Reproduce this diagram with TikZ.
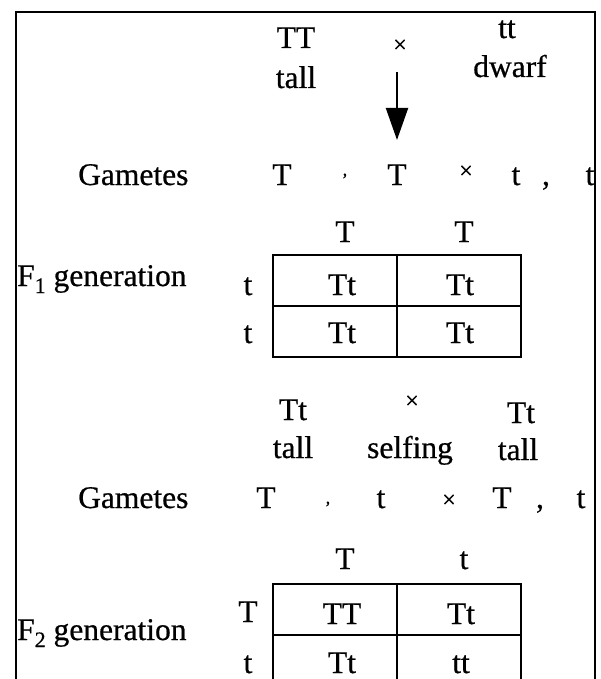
\documentclass[tikz,border=0pt]{standalone}
\usepackage{fontspec}
\setmainfont[FakeBold=0.6]{Liberation Serif}
\usetikzlibrary{arrows.meta}
\begin{document}
\begin{tikzpicture}[x=1pt,y=-1pt,
  txt/.style={inner sep=0pt,anchor=base,font=\fontsize{31.5}{36}\selectfont},
  lbl/.style={txt,anchor=base west},
  cross/.style={inner sep=0pt,anchor=center,font=\fontsize{24}{24}\selectfont},
  smallcomma/.style={inner sep=0pt,anchor=center,font=\fontsize{18}{18}\selectfont},
  grid/.style={line width=2.2pt},
  frame/.style={line width=2.8pt},
  bigarrow/.style={line width=2pt,-{Triangle[length=32pt,width=22pt]}}]
\useasboundingbox (0,0) rectangle (601,679);
\fill[white] (0,0) rectangle (601,679);
% open frame around the chart
\draw[frame] (16,679) -- (16,12) -- (595,12) -- (595,679);

% ---- parental cross ----
\node[txt] (pTT)   at (296,48) {TT};
\node[txt] (pTall) at (296,88) {tall};
\node[cross] (pX)  at (400,46) {×};
\node[txt] (ptt)   at (507,38) {tt};
\node[txt] (pDw)   at (510,77) {dwarf};
\coordinate (arrTop) at (397,72);
\coordinate (arrBot) at (397,140);
\draw[bigarrow] (arrTop) -- (arrBot);

% gametes of the parents
\node[lbl] (gam1) at (78,185) {Gametes};
\node[txt] (g1a) at (282,185) {T};
\node[smallcomma] (g1c1) at (345,176) {,};
\node[txt] (g1b) at (397,185) {T};
\node[cross] (g1x) at (466,172) {×};
\node[txt] (g1d) at (516,185) {t};
\node[txt] (g1c2) at (546,185) {,};
\node[txt] (g1e) at (590,185) {t};

% ---- F1 checkerboard ----
\node[lbl] (f1) at (17,286) {F\raisebox{-7pt}{\fontsize{22}{22}\selectfont 1} generation};
\node[txt] (f1h1) at (345,242) {T};
\node[txt] (f1h2) at (464,242) {T};
\node[txt] (f1r1) at (248,295) {t};
\node[txt] (f1r2) at (248,343) {t};
\draw[grid] (273,255) rectangle (521,357);
\draw[grid] (273,306) -- (521,306);
\draw[grid] (397,255) -- (397,357);
\node[txt] (f1c11) at (342,295) {Tt};
\node[txt] (f1c12) at (460,295) {Tt};
\node[txt] (f1c21) at (342,343) {Tt};
\node[txt] (f1c22) at (460,343) {Tt};

% ---- selfing of F1 ----
\node[txt] (sTt1)   at (293,420) {Tt};
\node[txt] (sTall1) at (293,458) {tall};
\node[cross] (sX)   at (412,402) {×};
\node[txt] (sSelf)  at (410,458) {selfing};
\node[txt] (sTt2)   at (521,423) {Tt};
\node[txt] (sTall2) at (518,460) {tall};

% gametes of F1
\node[lbl] (gam2) at (78,508) {Gametes};
\node[txt] (g2a) at (266,508) {T};
\node[smallcomma] (g2c1) at (328,504) {,};
\node[txt] (g2b) at (381,508) {t};
\node[cross] (g2x) at (449,501) {×};
\node[txt] (g2d) at (502,508) {T};
\node[txt] (g2c2) at (540,508) {,};
\node[txt] (g2e) at (581,508) {t};

% ---- F2 checkerboard ----
\node[lbl] (f2) at (17,640) {F\raisebox{-7pt}{\fontsize{22}{22}\selectfont 2} generation};
\node[txt] (f2h1) at (345,569) {T};
\node[txt] (f2h2) at (464,569) {t};
\node[txt] (f2r1) at (248,622) {T};
\node[txt] (f2r2) at (248,673) {t};
\draw[grid] (273,679) -- (273,584) -- (521,584) -- (521,679);
\draw[grid] (273,635) -- (521,635);
\draw[grid] (397,584) -- (397,679);
\node[txt] (f2c11) at (342,624) {TT};
\node[txt] (f2c12) at (461,624) {Tt};
\node[txt] (f2c21) at (342,673) {Tt};
\node[txt] (f2c22) at (461,673) {tt};
\end{tikzpicture}
\end{document}
